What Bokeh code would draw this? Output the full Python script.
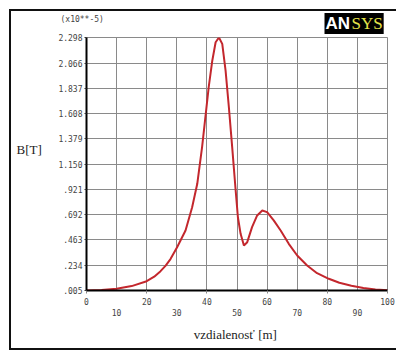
from bokeh.plotting import figure
from bokeh.models import (FixedTicker, LinearAxis, Label, Range1d, Grid, InlineStyleSheet)
from bokeh.embed import file_html
from bokeh.resources import INLINE

# ---- data (B in units of 1e-5 T) ----
dist = [0, 5, 10, 15, 20, 22.5, 24.6, 26.3, 27.9, 30.1, 32.9, 35.1, 36.8, 38.4, 39.5,
        40.6, 41.8, 42.9, 44.0, 45.1, 46.2, 47.3, 48.4, 49.5, 50.3, 51.2, 52.3, 53.4,
        55.0, 56.7, 58.4, 60.0, 62.2, 64.5, 67.2, 70.0, 73.3, 76.6, 80.5, 84, 88, 92,
        96, 100]
bval = [0.005, 0.01, 0.02, 0.045, 0.089, 0.13, 0.18, 0.23, 0.29, 0.397, 0.549, 0.76,
        0.972, 1.304, 1.576, 1.848, 2.09, 2.255, 2.298, 2.24, 2.0, 1.666, 1.304, 0.93,
        0.669, 0.519, 0.413, 0.443, 0.579, 0.685, 0.73, 0.715, 0.64, 0.549, 0.428,
        0.322, 0.232, 0.162, 0.111, 0.075, 0.048, 0.028, 0.015, 0.008]

y_ticks = [0.005, 0.234, 0.463, 0.692, 0.921, 1.150, 1.379, 1.608, 1.837, 2.066, 2.298]
y_tick_labels = [".005", ".234", ".463", ".692", ".921", "1.150", "1.379", "1.608",
                 "1.837", "2.066", "2.298"]
x_ticks_row1 = [0, 20, 40, 60, 80, 100]
x_ticks_row2 = [10, 30, 50, 70, 90]
x_grid = list(range(0, 101, 10))

W, H = 396, 352
FL, FR, FT, FB = 86, 387, 37, 290  # frame edges in px
X0, X1, Y0, Y1 = 0, 100, 0.005, 2.298

frame_css = InlineStyleSheet(css="""
:host::after {
  content: ""; position: absolute; left: 9px; top: 9px; width: 387px; height: 341px;
  box-sizing: border-box; border-style: solid none solid solid;
  border-width: 2px 0px 2px 2px; border-color: #111;
  pointer-events: none; z-index: 10;
}
""")

p = figure(width=W, height=H, output_backend="svg", toolbar_location=None,
           x_range=Range1d(X0, X1), y_range=Range1d(Y0, Y1),
           x_axis_type=None, y_axis_type=None,
           min_border_left=FL, min_border_right=W - FR,
           min_border_top=FT, min_border_bottom=H - FB,
           stylesheets=[frame_css])
p.background_fill_color = "white"
p.border_fill_color = "white"
p.outline_line_color = "#8a8a8a"
p.outline_line_width = 1

mono = "DejaVu Sans Mono"
serif = "Liberation Serif"


def dx(px):
    return X0 + (px - FL) / (FR - FL) * (X1 - X0)


def dy(py):
    return Y0 + (FB - py) / (FB - FT) * (Y1 - Y0)


# y axis
yax = LinearAxis(ticker=FixedTicker(ticks=y_ticks))
yax.major_label_overrides = {t: l for t, l in zip(y_ticks, y_tick_labels)}
yax.axis_line_color = "black"
yax.axis_line_width = 2
yax.major_tick_out = 2
yax.major_tick_in = 0
yax.major_tick_line_color = "#333333"
yax.minor_tick_line_color = None
yax.major_label_standoff = 2
yax.major_label_text_font = mono
yax.major_label_text_font_size = "8px"
yax.major_label_text_color = "#444444"
p.add_layout(yax, "left")

# x axis row 1
xax1 = LinearAxis(ticker=FixedTicker(ticks=x_ticks_row1))
xax1.axis_line_color = "black"
xax1.axis_line_width = 2
xax1.major_tick_out = 3
xax1.major_tick_in = 0
xax1.major_tick_line_color = "#888888"
xax1.minor_tick_line_color = None
xax1.major_label_standoff = 4
xax1.major_label_text_align = "left"
xax1.major_label_text_font = mono
xax1.major_label_text_font_size = "8px"
xax1.major_label_text_color = "#444444"
p.add_layout(xax1, "below")

# x axis row 2
xax2 = LinearAxis(ticker=FixedTicker(ticks=x_ticks_row2))
xax2.axis_line_color = None
xax2.major_tick_line_color = None
xax2.minor_tick_line_color = None
xax2.major_tick_out = 0
xax2.major_tick_in = 0
xax2.major_label_standoff = 1
xax2.major_label_text_align = "left"
xax2.major_label_text_font = mono
xax2.major_label_text_font_size = "8px"
xax2.major_label_text_color = "#444444"
xax2.axis_label = "vzdialenosť  [m]"
xax2.axis_label_standoff = 8
xax2.axis_label_text_font = serif
xax2.axis_label_text_font_style = "normal"
xax2.axis_label_text_font_size = "13px"
xax2.axis_label_text_color = "#222222"
p.add_layout(xax2, "below")

p.add_layout(Grid(dimension=0, ticker=FixedTicker(ticks=x_grid),
                  grid_line_color="#8a8a8a", grid_line_width=1))
p.add_layout(Grid(dimension=1, ticker=FixedTicker(ticks=y_ticks),
                  grid_line_color="#8a8a8a", grid_line_width=1))

p.line(dist, bval, line_color="#c3272d", line_width=2)

# page decorations placed in side panels (not clipped to the frame)
p.add_layout(Label(x=dx(60), y=dy(19), text="(x10**-5)", text_color="#444444",
                   text_font=mono, text_font_size="8px", text_baseline="middle"),
             "above")
p.add_layout(Label(x=dx(350), y=dy(23), text="SYS", text_color="#e4e44a",
                   text_font=serif, text_font_size="17px", text_baseline="middle",
                   background_fill_color="black", padding=1),
             "above")
p.add_layout(Label(x=dx(16), y=dy(149), text="B[T]", text_color="#222222",
                   text_font=serif, text_font_size="13px", text_baseline="middle"),
             "left")
p.add_layout(Label(x=dx(324), y=dy(23), text="AN", text_color="white",
                   text_font="Liberation Sans", text_font_style="bold",
                   text_font_size="17px", text_baseline="middle",
                   background_fill_color="black", padding=1),
             "left")

open("out.html", "w").write(file_html(p, INLINE))
